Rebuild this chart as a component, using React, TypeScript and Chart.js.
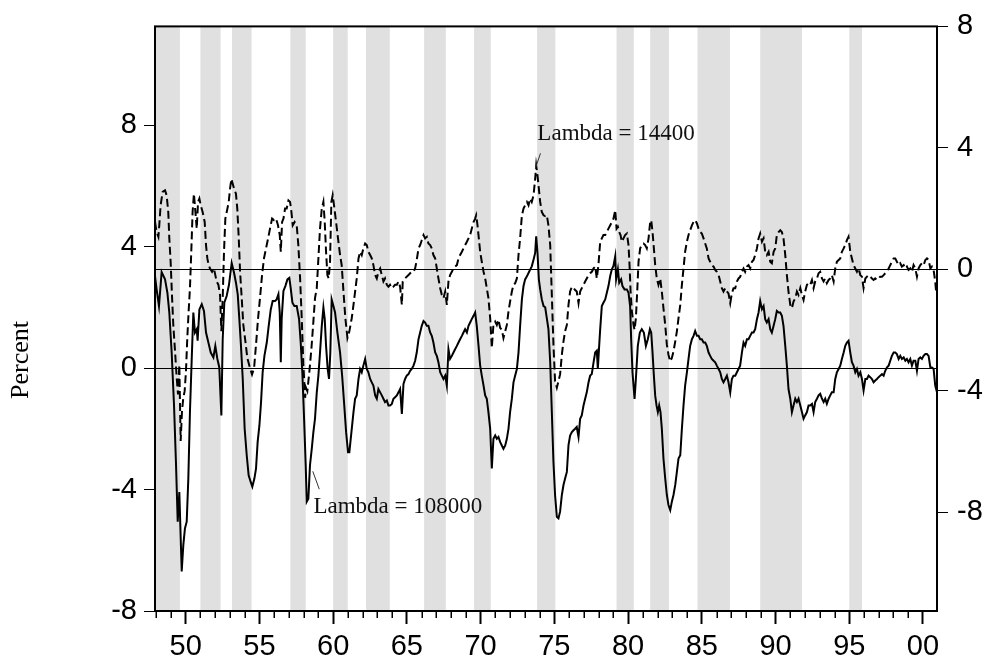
import React, { useEffect, useRef } from "react";
import { Chart, registerables } from "chart.js";

Chart.register(...registerables);

// ---- data (years as decimal dates, values in percent) ----
const lambda108000: [number, number][] = [
  [1947.92,3.03],[1948.03,2.59],[1948.19,2.04],[1948.37,3.16],[1948.60,2.92],[1948.76,2.48],[1948.89,1.83],[1949.05,0.51],[1949.21,-1.23],[1949.34,-3.09],[1949.46,-5.06],[1949.57,-4.08],[1949.73,-6.70],[1949.84,-5.83],[1949.95,-5.28],[1950.07,-5.06],[1950.18,-3.64],[1950.29,-1.45],[1950.41,0.30],[1950.52,1.83],[1950.63,1.17],[1950.75,1.28],[1950.81,0.90],[1950.93,1.93],[1951.09,2.10],[1951.24,1.88],[1951.38,1.17],[1951.54,0.84],[1951.70,0.51],[1951.88,0.35],[1952.01,0.73],[1952.15,0.30],[1952.28,0.02],[1952.42,-1.56],[1952.51,0.95],[1952.62,2.15],[1952.78,2.37],[1952.94,2.75],[1953.12,3.46],[1953.28,3.14],[1953.41,2.81],[1953.53,2.43],[1953.64,1.61],[1953.75,0.73],[1953.87,-0.36],[1954.00,-2.00],[1954.14,-2.87],[1954.27,-3.53],[1954.41,-3.75],[1954.52,-3.91],[1954.66,-3.64],[1954.77,-3.31],[1954.88,-2.44],[1955.00,-1.89],[1955.11,-1.13],[1955.22,-0.14],[1955.34,0.40],[1955.50,0.84],[1955.63,1.39],[1955.77,1.93],[1955.90,2.21],[1956.06,2.21],[1956.17,2.26],[1956.29,2.43],[1956.38,1.83],[1956.45,0.19],[1956.51,1.61],[1956.63,2.54],[1956.76,2.70],[1956.90,2.92],[1957.03,2.97],[1957.12,2.64],[1957.24,2.15],[1957.37,2.04],[1957.53,2.04],[1957.69,1.61],[1957.80,0.84],[1957.91,-0.14],[1958.03,-1.67],[1958.14,-3.20],[1958.21,-4.40],[1958.32,-4.30],[1958.43,-3.20],[1958.55,-2.66],[1958.66,-2.11],[1958.77,-1.67],[1958.89,-0.80],[1959.00,-0.25],[1959.11,0.51],[1959.23,1.39],[1959.34,1.99],[1959.43,1.61],[1959.52,0.73],[1959.63,-0.03],[1959.72,-0.36],[1959.81,0.51],[1959.90,2.26],[1960.02,2.04],[1960.13,1.83],[1960.29,1.17],[1960.47,0.51],[1960.61,-0.25],[1960.74,-1.13],[1960.88,-2.11],[1961.01,-2.77],[1961.10,-2.77],
  [1961.38,-1.45],[1961.49,-1.01],[1961.60,-0.90],[1961.72,-0.36],[1961.83,-0.03],[1961.94,-0.14],[1962.05,0.08],[1962.17,0.30],[1962.28,-0.03],[1962.39,-0.14],[1962.51,-0.36],[1962.62,-0.47],[1962.73,-0.58],[1962.85,-0.90],[1962.96,-1.01],[1963.07,-0.69],[1963.19,-0.80],[1963.30,-0.90],[1963.41,-1.01],[1963.52,-1.12],[1963.64,-1.07],[1963.75,-1.23],[1963.86,-1.23],[1963.98,-1.18],[1964.09,-1.01],[1964.20,-0.96],[1964.32,-0.90],[1964.43,-0.80],[1964.54,-0.69],[1964.66,-1.51],[1964.77,-0.52],[1964.88,-0.36],[1964.99,-0.25],[1965.11,-0.20],[1965.22,-0.09],[1965.33,-0.03],[1965.45,0.08],[1965.56,0.24],[1965.67,0.51],[1965.79,0.95],[1965.90,1.17],[1966.01,1.39],[1966.13,1.55],[1966.24,1.50],[1966.35,1.39],[1966.46,1.39],[1966.58,1.17],[1966.69,1.06],[1966.80,0.84],[1966.92,0.51],[1967.03,0.40],[1967.14,0.19],[1967.26,-0.14],[1967.37,-0.25],[1967.48,-0.36],[1967.60,-0.25],[1967.71,-0.58],[1967.82,0.62],[1967.93,0.30],[1968.05,0.40],[1968.16,0.51],[1968.27,0.62],[1968.39,0.73],[1968.50,0.84],[1968.61,0.95],[1968.73,1.06],[1968.84,1.17],[1968.95,1.28],[1969.07,1.17],[1969.18,1.39],[1969.29,1.50],[1969.40,1.61],[1969.52,1.72],[1969.63,1.83],[1969.74,1.39],[1969.86,0.73],[1969.97,0.08],[1970.08,-0.25],[1970.20,-0.58],[1970.31,-0.90],[1970.42,-1.01],[1970.53,-1.45],[1970.65,-2.00],[1970.76,-3.31],[1970.87,-2.33],[1970.99,-2.22],[1971.10,-2.33],[1971.21,-2.27],[1971.33,-2.44],[1971.44,-2.55],[1971.55,-2.66],[1971.67,-2.55],[1971.78,-2.33],[1971.89,-2.00],[1972.00,-1.45],[1972.12,-1.01],[1972.23,-0.47],[1972.34,-0.25],[1972.46,-0.03],[1972.57,0.51],[1972.68,1.39],[1972.80,2.26],[1972.91,2.70],[1973.02,2.92],[1973.14,3.02],[1973.25,3.13],[1973.36,3.24],[1973.47,3.35],[1973.59,3.57],[1973.70,3.79],[1973.77,4.34],[1973.86,3.79],[1973.95,2.92],[1974.04,2.59],[1974.15,2.26],[1974.27,2.04],[1974.38,2.00],
  [1974.60,1.28],[1974.72,0.19],[1974.83,-1.45],[1974.94,-3.09],[1975.05,-4.18],[1975.17,-4.90],[1975.28,-4.95],[1975.39,-4.73],[1975.51,-4.18],[1975.62,-3.85],[1975.73,-3.64],[1975.85,-3.42],[1975.96,-2.54],[1976.07,-2.22],[1976.19,-2.11],[1976.30,-2.05],[1976.41,-2.00],[1976.52,-1.94],[1976.64,-2.27],[1976.75,-1.67],[1976.86,-1.56],[1976.98,-1.23],[1977.09,-1.01],[1977.20,-0.80],[1977.32,-0.47],[1977.43,-0.25],[1977.54,-0.20],[1977.66,0.19],[1977.77,0.51],[1977.88,0.57],[1977.95,-0.03],[1978.04,0.73],[1978.11,1.28],[1978.22,2.04],[1978.33,2.15],[1978.45,2.26],[1978.56,2.48],[1978.67,2.70],[1978.79,3.03],[1978.90,3.25],[1979.01,3.36],[1979.13,3.68],[1979.19,2.92],[1979.31,3.25],[1979.40,2.81],[1979.53,2.92],[1979.62,2.70],[1979.76,2.59],[1979.92,2.59],[1980.03,2.48],[1980.14,2.04],[1980.21,0.95],[1980.30,-0.14],[1980.44,-1.02],[1980.53,-0.36],[1980.66,0.73],[1980.80,1.17],[1980.93,1.28],[1981.07,1.17],[1981.21,0.73],[1981.34,0.95],[1981.48,1.28],[1981.57,1.17],[1981.66,0.51],[1981.75,-0.25],[1981.84,-0.91],[1981.93,-1.23],[1982.02,-1.45],[1982.11,-1.23],[1982.20,-1.45],[1982.29,-2.00],[1982.40,-2.98],[1982.52,-3.64],[1982.63,-4.18],[1982.74,-4.51],[1982.86,-4.68],[1982.97,-4.40],[1983.08,-4.18],[1983.20,-3.85],[1983.31,-3.42],[1983.42,-2.98],[1983.54,-2.87],[1983.65,-2.00],[1983.76,-1.23],[1983.87,-0.58],[1983.99,-0.14],[1984.10,0.30],[1984.21,0.73],[1984.33,0.95],[1984.44,1.06],[1984.55,1.22],[1984.67,1.06],[1984.78,1.06],[1984.89,0.95],[1985.00,0.95],[1985.12,0.84],[1985.23,0.84],[1985.34,0.73],[1985.46,0.51],[1985.57,0.40],[1985.68,0.30],[1985.80,0.24],[1985.91,0.19],[1986.02,0.08],[1986.14,-0.03],[1986.25,-0.14],[1986.36,-0.36],[1986.47,-0.47],[1986.59,-0.36],[1986.70,-0.25],[1986.81,-0.47],[1986.93,-0.80],[1987.04,-0.36],[1987.15,-0.25],[1987.27,-0.25],[1987.38,-0.14],[1987.49,-0.03],[1987.60,0.08],
  [1987.72,0.51],[1987.83,0.84],[1987.94,0.73],[1988.06,0.95],[1988.17,0.95],[1988.28,1.06],[1988.40,1.17],[1988.51,1.17],[1988.62,1.28],[1988.74,1.61],[1988.85,1.83],[1988.96,2.21],[1989.08,1.94],[1989.19,2.04],[1989.30,1.61],[1989.41,1.50],[1989.53,1.61],[1989.64,1.28],[1989.75,1.17],[1989.87,1.39],[1989.98,1.61],[1990.09,1.88],[1990.21,1.83],[1990.32,1.83],[1990.43,1.72],[1990.54,1.39],[1990.66,0.73],[1990.77,0.08],[1990.88,-0.69],[1991.00,-1.01],[1991.11,-1.45],[1991.22,-1.23],[1991.34,-1.01],[1991.45,-1.12],[1991.56,-1.01],[1991.68,-1.23],[1991.79,-1.45],[1991.90,-1.67],[1992.01,-1.56],[1992.13,-1.45],[1992.24,-1.23],[1992.35,-1.23],[1992.47,-1.18],[1992.58,-1.45],[1992.69,-1.12],[1992.81,-1.01],[1992.92,-0.90],[1993.03,-0.85],[1993.15,-1.01],[1993.26,-1.12],[1993.37,-1.01],[1993.48,-1.18],[1993.60,-1.01],[1993.71,-0.90],[1993.82,-0.80],[1993.94,-0.80],[1994.05,-0.36],[1994.16,-0.14],[1994.28,-0.03],[1994.39,0.08],[1994.50,0.30],[1994.62,0.51],[1994.73,0.73],[1994.84,0.84],[1994.95,0.90],[1995.07,0.51],[1995.18,0.19],[1995.29,0.08],[1995.41,-0.14],[1995.52,-0.03],[1995.63,-0.25],[1995.75,-0.14],[1995.86,-0.36],[1995.97,-0.74],[1996.09,-0.36],[1996.20,-0.36],[1996.31,-0.25],[1996.42,-0.30],[1996.54,-0.36],[1996.65,-0.47],[1996.76,-0.41],[1996.88,-0.36],[1996.99,-0.30],[1997.10,-0.25],[1997.22,-0.20],[1997.33,-0.25],[1997.44,-0.09],[1997.56,0.02],[1997.67,0.08],[1997.78,0.24],[1997.89,0.40],[1998.01,0.51],[1998.12,0.51],[1998.23,0.46],[1998.35,0.30],[1998.46,0.40],[1998.57,0.30],[1998.69,0.35],[1998.80,0.24],[1998.91,0.30],[1999.02,0.19],[1999.14,0.30],[1999.25,0.08],[1999.36,0.24],[1999.48,0.24],[1999.59,-0.09],[1999.70,0.30],[1999.82,0.35],[1999.93,0.30],[2000.04,0.40],[2000.16,0.46],[2000.27,0.46],[2000.38,0.40],[2000.50,0.02],[2000.61,0.02],[2000.72,-0.03],[2000.83,-0.58],[2000.95,-0.80],
];

const lambda14400: [number, number][] = [
  [1947.92,1.56],[1948.03,1.23],[1948.15,1.07],[1948.21,1.45],[1948.30,2.11],[1948.44,2.55],[1948.60,2.60],[1948.71,2.44],[1948.82,1.89],[1948.89,1.02],[1948.98,0.25],[1949.07,-0.84],[1949.16,-1.83],[1949.28,-2.70],[1949.39,-3.57],[1949.48,-4.12],[1949.57,-3.14],[1949.66,-5.65],[1949.75,-4.67],[1949.84,-4.23],[1949.93,-4.01],[1950.02,-3.36],[1950.11,-2.26],[1950.20,-1.39],[1950.29,-0.62],[1950.38,0.58],[1950.47,1.89],[1950.56,2.49],[1950.66,1.89],[1950.75,1.34],[1950.84,2.22],[1950.93,2.33],[1951.02,2.11],[1951.15,1.89],[1951.29,1.56],[1951.38,0.80],[1951.47,0.36],[1951.56,0.14],[1951.65,0.03],[1951.79,-0.08],[1951.92,0.03],[1952.01,-0.19],[1952.10,-0.40],[1952.22,-0.51],[1952.33,-0.84],[1952.42,-2.04],[1952.51,-0.95],[1952.60,0.58],[1952.69,1.67],[1952.83,2.00],[1952.92,2.22],[1953.01,2.66],[1953.10,2.98],[1953.19,2.82],[1953.28,2.66],[1953.41,2.49],[1953.50,2.00],[1953.60,1.02],[1953.69,-0.08],[1953.80,-0.95],[1953.91,-1.83],[1954.05,-2.37],[1954.18,-2.92],[1954.36,-3.25],[1954.50,-3.46],[1954.64,-3.25],[1954.77,-2.48],[1954.91,-1.61],[1955.04,-0.95],[1955.18,-0.19],[1955.31,0.36],[1955.45,0.69],[1955.59,1.02],[1955.72,1.34],[1955.86,1.67],[1955.99,1.62],[1956.13,1.67],[1956.26,1.45],[1956.38,1.13],[1956.45,0.58],[1956.54,1.56],[1956.63,1.67],[1956.74,2.00],[1956.85,2.00],[1956.97,2.27],[1957.08,2.22],[1957.17,1.89],[1957.26,1.45],[1957.39,1.56],[1957.53,1.45],[1957.64,0.80],[1957.76,-0.30],[1957.87,-1.61],[1957.98,-3.14],[1958.10,-4.23],[1958.16,-3.90],[1958.25,-4.01],[1958.39,-3.36],[1958.53,-2.59],[1958.66,-1.72],[1958.77,-0.95],[1958.89,-0.62],[1959.00,0.36],[1959.11,1.34],[1959.23,2.00],[1959.34,2.22],[1959.43,1.56],[1959.52,0.58],[1959.61,-0.19],[1959.70,-0.30],[1959.79,0.25],[1959.88,2.22],[1959.97,2.44],[1960.06,2.11],[1960.20,1.56],[1960.33,1.02],[1960.47,0.47],[1960.58,0.14],[1960.70,-0.73],[1960.83,-1.61],[1960.97,-2.26],[1961.10,-2.04],
  [1961.26,-1.61],[1961.38,-1.17],[1961.49,-0.73],[1961.60,-0.30],[1961.72,0.36],[1961.83,0.58],[1961.94,0.47],[1962.05,0.69],[1962.17,0.85],[1962.28,0.80],[1962.39,0.58],[1962.51,0.47],[1962.62,0.36],[1962.73,0.14],[1962.85,-0.19],[1962.96,-0.30],[1963.07,-0.08],[1963.19,0.03],[1963.30,-0.19],[1963.41,-0.40],[1963.52,-0.30],[1963.64,-0.51],[1963.75,-0.57],[1963.86,-0.51],[1963.98,-0.62],[1964.09,-0.57],[1964.20,-0.51],[1964.32,-0.51],[1964.43,-0.40],[1964.54,-0.57],[1964.66,-1.17],[1964.72,-0.40],[1964.88,-0.30],[1964.99,-0.24],[1965.11,-0.19],[1965.22,-0.13],[1965.33,-0.08],[1965.45,-0.08],[1965.56,0.03],[1965.67,0.31],[1965.79,0.69],[1965.90,0.80],[1966.01,0.96],[1966.13,1.13],[1966.24,1.02],[1966.35,1.07],[1966.46,0.85],[1966.58,0.80],[1966.69,0.69],[1966.80,0.47],[1966.92,0.36],[1967.03,0.03],[1967.14,-0.30],[1967.26,-0.62],[1967.37,-0.84],[1967.48,-0.95],[1967.60,-0.73],[1967.71,-1.17],[1967.82,-0.40],[1967.93,-0.19],[1968.05,-0.08],[1968.16,0.03],[1968.27,0.09],[1968.39,0.14],[1968.50,0.36],[1968.61,0.47],[1968.73,0.58],[1968.84,0.69],[1968.95,0.80],[1969.07,0.91],[1969.18,1.02],[1969.29,1.13],[1969.40,1.34],[1969.52,1.56],[1969.63,1.67],[1969.70,1.78],[1969.79,1.45],[1969.88,1.02],[1969.97,0.58],[1970.08,0.25],[1970.20,-0.08],[1970.31,-0.30],[1970.42,-0.62],[1970.53,-0.95],[1970.65,-1.61],[1970.76,-2.59],[1970.87,-1.83],[1970.99,-1.72],[1971.10,-1.83],[1971.21,-1.66],[1971.33,-1.93],[1971.44,-1.99],[1971.55,-2.26],[1971.67,-2.04],[1971.78,-1.83],[1971.89,-1.39],[1972.00,-1.06],[1972.12,-0.73],[1972.23,-0.51],[1972.34,-0.46],[1972.46,-0.30],[1972.57,0.47],[1972.68,1.02],[1972.80,1.78],[1972.91,2.00],[1973.02,2.11],[1973.14,2.22],[1973.25,2.11],[1973.36,2.33],[1973.47,2.22],[1973.59,2.44],[1973.70,2.98],[1973.77,3.42],[1973.86,3.09],[1973.95,2.66],[1974.04,2.22],[1974.15,1.89],[1974.27,1.78],[1974.38,1.75],[1974.49,1.78],
  [1974.60,1.45],[1974.72,0.80],[1974.83,-0.84],[1974.94,-2.48],[1975.05,-3.68],[1975.17,-3.90],[1975.28,-3.68],[1975.39,-3.46],[1975.51,-2.81],[1975.62,-2.37],[1975.73,-2.04],[1975.85,-1.83],[1975.96,-1.17],[1976.07,-0.73],[1976.19,-0.57],[1976.30,-0.62],[1976.41,-0.68],[1976.52,-0.73],[1976.64,-1.11],[1976.75,-0.73],[1976.86,-0.62],[1976.98,-0.51],[1977.09,-0.40],[1977.20,-0.30],[1977.32,-0.19],[1977.43,-0.13],[1977.54,-0.08],[1977.66,0.03],[1977.77,0.09],[1977.88,-0.30],[1977.99,0.14],[1978.11,0.91],[1978.22,1.02],[1978.33,1.13],[1978.45,1.13],[1978.56,1.23],[1978.67,1.34],[1978.79,1.45],[1978.90,1.56],[1979.01,1.67],[1979.13,1.95],[1979.22,1.34],[1979.31,1.40],[1979.40,1.23],[1979.49,1.13],[1979.58,0.91],[1979.69,1.02],[1979.80,1.13],[1979.92,1.18],[1980.03,0.80],[1980.10,0.14],[1980.17,-0.73],[1980.26,-1.39],[1980.37,-1.83],[1980.44,-1.99],[1980.53,-1.61],[1980.62,-0.73],[1980.71,0.25],[1980.82,0.69],[1980.93,0.80],[1981.05,0.85],[1981.16,0.80],[1981.27,0.69],[1981.39,1.02],[1981.50,1.56],[1981.57,1.62],[1981.66,1.23],[1981.75,0.69],[1981.84,0.14],[1981.95,-0.30],[1982.06,-0.51],[1982.18,-0.30],[1982.29,-0.73],[1982.40,-1.28],[1982.52,-1.83],[1982.63,-2.48],[1982.74,-2.81],[1982.86,-3.03],[1982.97,-2.92],[1983.08,-2.70],[1983.20,-2.37],[1983.31,-2.04],[1983.42,-1.61],[1983.54,-1.17],[1983.65,-0.51],[1983.76,0.03],[1983.87,0.58],[1983.99,0.91],[1984.10,1.13],[1984.21,1.29],[1984.33,1.45],[1984.44,1.56],[1984.55,1.62],[1984.67,1.51],[1984.78,1.34],[1984.89,1.23],[1985.00,1.18],[1985.12,1.02],[1985.23,0.85],[1985.34,0.69],[1985.46,0.36],[1985.57,0.25],[1985.68,0.14],[1985.80,0.09],[1985.91,-0.02],[1986.02,-0.08],[1986.14,-0.19],[1986.25,-0.40],[1986.36,-0.62],[1986.47,-0.73],[1986.59,-0.62],[1986.70,-0.73],[1986.81,-0.79],[1986.93,-1.11],[1987.04,-0.79],[1987.15,-0.62],[1987.27,-0.62],[1987.38,-0.40],[1987.49,-0.30],[1987.60,-0.25],
  [1987.72,-0.08],[1987.83,0.03],[1987.94,-0.08],[1988.06,0.09],[1988.17,0.14],[1988.28,0.03],[1988.40,0.25],[1988.51,0.31],[1988.62,0.47],[1988.74,0.69],[1988.85,1.02],[1988.96,1.18],[1989.08,0.91],[1989.19,1.02],[1989.30,0.58],[1989.41,0.47],[1989.53,0.58],[1989.64,0.25],[1989.75,0.20],[1989.87,0.58],[1989.98,0.69],[1990.09,1.13],[1990.21,1.23],[1990.32,1.29],[1990.43,1.23],[1990.54,1.02],[1990.66,0.47],[1990.77,-0.19],[1990.88,-0.73],[1991.00,-1.17],[1991.11,-1.28],[1991.22,-1.06],[1991.34,-0.95],[1991.45,-0.73],[1991.56,-0.84],[1991.68,-0.62],[1991.79,-0.84],[1991.90,-1.01],[1992.01,-0.73],[1992.13,-0.51],[1992.24,-0.46],[1992.35,-0.51],[1992.47,-0.35],[1992.58,-0.62],[1992.69,-0.40],[1992.81,-0.30],[1992.92,-0.13],[1993.03,-0.08],[1993.15,-0.30],[1993.26,-0.40],[1993.37,-0.30],[1993.48,-0.46],[1993.60,-0.35],[1993.71,-0.30],[1993.82,-0.19],[1993.94,-0.40],[1994.05,0.03],[1994.16,0.25],[1994.28,0.31],[1994.39,0.36],[1994.50,0.58],[1994.62,0.69],[1994.73,0.80],[1994.84,0.96],[1994.95,1.07],[1995.07,0.58],[1995.18,0.36],[1995.29,0.14],[1995.41,0.03],[1995.52,-0.08],[1995.63,0.03],[1995.75,-0.19],[1995.86,-0.24],[1995.97,-0.62],[1996.09,-0.30],[1996.20,-0.24],[1996.31,-0.19],[1996.42,-0.24],[1996.54,-0.30],[1996.65,-0.35],[1996.76,-0.30],[1996.88,-0.35],[1996.99,-0.30],[1997.10,-0.24],[1997.22,-0.24],[1997.33,-0.19],[1997.44,-0.13],[1997.56,-0.08],[1997.67,0.03],[1997.78,0.14],[1997.89,0.25],[1998.01,0.36],[1998.12,0.36],[1998.23,0.25],[1998.35,0.14],[1998.46,0.20],[1998.57,0.09],[1998.69,0.14],[1998.80,0.03],[1998.91,0.09],[1999.02,-0.02],[1999.14,0.03],[1999.25,-0.08],[1999.36,0.14],[1999.48,0.03],[1999.59,-0.24],[1999.70,0.03],[1999.82,0.14],[1999.93,0.20],[2000.04,0.14],[2000.16,0.31],[2000.27,0.36],[2000.38,0.31],[2000.50,0.03],[2000.61,0.09],[2000.72,-0.02],[2000.83,-0.40],[2000.90,-0.79],
];

// shaded periods (start / end, decimal years)
const bandStart = [1947.92, 1951.0, 1953.14, 1957.1, 1960.0, 1962.23, 1966.17, 1969.56, 1973.83, 1979.22, 1981.5, 1984.71, 1988.96, 1995.0];
const bandEnd = [1949.61, 1952.37, 1954.47, 1958.14, 1960.99, 1963.84, 1967.64, 1970.69, 1975.07, 1980.39, 1982.77, 1986.91, 1991.79, 1995.86];

// axis ticks
const xTickYears = Array.from({ length: 53 }, (_, i) => 1948 + i);
const leftTicks = [-8, -4, 0, 4, 8];
const rightTicks = [-8, -4, 0, 4, 8];

const SANS = "'Liberation Sans', Arial, sans-serif";
const SERIF = "'Liberation Serif', 'Times New Roman', serif";

const decorPlugin = {
  id: "decor",
  beforeDraw(chart: any) {
    const { ctx, chartArea: a, scales } = chart;
    const xs = scales.x;
    ctx.save();
    ctx.fillStyle = "#e0e0e0";
    bandStart.forEach((s, i) => {
      const x0 = Math.max(xs.getPixelForValue(s), a.left);
      const x1 = Math.min(xs.getPixelForValue(bandEnd[i]), a.right);
      if (x1 > x0) ctx.fillRect(x0, a.top, x1 - x0, a.bottom - a.top);
    });
    ctx.restore();
  },
  afterDraw(chart: any) {
    const { ctx, chartArea: a, scales } = chart;
    const xs = scales.x;
    const yl = scales.y;
    const yr = scales.y2;
    ctx.save();
    // frame
    ctx.strokeStyle = "#000";
    ctx.lineWidth = 2;
    ctx.strokeRect(a.left, a.top, a.right - a.left, a.bottom - a.top);
    // minor ticks on x axis
    ctx.lineWidth = 1.5;
    xs.ticks.forEach((t: any) => {
      if (t.value % 5 !== 0) {
        const x = Math.round(xs.getPixelForValue(t.value)) + 0.25;
        ctx.beginPath();
        ctx.moveTo(x, a.bottom);
        ctx.lineTo(x, a.bottom + 7);
        ctx.stroke();
      }
    });
    // annotations
    ctx.fillStyle = "#111";
    ctx.font = `23px ${SERIF}`;
    ctx.textAlign = "left";
    ctx.textBaseline = "alphabetic";
    ctx.fillText("Lambda = 14400", xs.getPixelForValue(1973.85), yr.getPixelForValue(4.25));
    ctx.fillText("Lambda = 108000", xs.getPixelForValue(1958.66), yl.getPixelForValue(-4.78));
    ctx.strokeStyle = "#333";
    ctx.lineWidth = 1;
    ctx.beginPath();
    ctx.moveTo(xs.getPixelForValue(1974.06), yr.getPixelForValue(3.82));
    ctx.lineTo(xs.getPixelForValue(1973.72), yr.getPixelForValue(3.33));
    ctx.stroke();
    ctx.beginPath();
    ctx.moveTo(xs.getPixelForValue(1958.62), yl.getPixelForValue(-3.4));
    ctx.lineTo(xs.getPixelForValue(1959.06), yl.getPixelForValue(-3.99));
    ctx.stroke();
    // y axis title
    ctx.translate(28, yl.getPixelForValue(0) - 8);
    ctx.rotate(-Math.PI / 2);
    ctx.textAlign = "center";
    ctx.fillStyle = "#000";
    ctx.font = `26px ${SERIF}`;
    ctx.fillText("Percent", 0, 0);
    ctx.restore();
  },
};

export default function App() {
  const ref = useRef<HTMLCanvasElement | null>(null);
  useEffect(() => {
    if (!ref.current) return;
    const zeroGrid = (c: any) => (c.tick && c.tick.value === 0 ? "#000" : "rgba(0,0,0,0)");
    const tickFont = { family: SANS, size: 29 };
    const chart = new Chart(ref.current, {
      type: "line",
      data: {
        datasets: [
          {
            label: "Lambda = 108000",
            data: lambda108000.map(([x, y]) => ({ x, y })),
            borderColor: "#000",
            borderWidth: 2,
            pointRadius: 0,
            tension: 0,
            yAxisID: "y",
          },
          {
            label: "Lambda = 14400",
            data: lambda14400.map(([x, y]) => ({ x, y })),
            borderColor: "#000",
            borderWidth: 2,
            borderDash: [8, 4],
            pointRadius: 0,
            tension: 0,
            yAxisID: "y2",
          },
        ],
      },
      options: {
        animation: false,
        responsive: false,
        events: [],
        layout: { padding: { top: 23, left: 0, right: 0, bottom: 0 } },
        plugins: { legend: { display: false }, tooltip: { enabled: false } },
        scales: {
          x: {
            type: "linear",
            min: 1947.92,
            max: 2000.95,
            afterFit: (s: any) => { s.height = 52; },
            afterBuildTicks: (s: any) => { s.ticks = xTickYears.map((v) => ({ value: v })); },
            border: { display: false },
            grid: {
              drawOnChartArea: false,
              drawTicks: true,
              tickLength: 13,
              tickWidth: 2,
              tickColor: (c: any) => (c.tick && c.tick.value % 5 === 0 ? "#000" : "rgba(0,0,0,0)"),
            },
            ticks: {
              autoSkip: false,
              maxRotation: 0,
              minRotation: 0,
              padding: 6,
              color: "#000",
              font: tickFont,
              callback: (v: any) => (Number(v) % 5 === 0 ? String(Number(v) % 100).padStart(2, "0") : ""),
            },
          },
          y: {
            position: "left",
            min: -8,
            max: 11.25,
            afterFit: (s: any) => { s.width = 155; },
            afterBuildTicks: (s: any) => { s.ticks = leftTicks.map((v) => ({ value: v })); },
            border: { display: false },
            grid: { color: zeroGrid, lineWidth: 1, tickColor: "#000", tickLength: 11, tickWidth: 1 },
            ticks: { padding: 7, color: "#000", font: tickFont, callback: (v: any) => String(v) },
          },
          y2: {
            position: "right",
            min: -11.25,
            max: 8,
            afterFit: (s: any) => { s.width = 52; },
            afterBuildTicks: (s: any) => { s.ticks = rightTicks.map((v) => ({ value: v })); },
            border: { display: false },
            grid: { color: zeroGrid, lineWidth: 1, tickColor: "#000", tickLength: 11, tickWidth: 1 },
            ticks: { padding: 9, color: "#000", font: tickFont, callback: (v: any) => String(v) },
          },
        },
      } as any,
      plugins: [decorPlugin],
    });
    return () => chart.destroy();
  }, []);
  return (
    <div style={{ position: "fixed", left: 0, top: 0, width: 989, height: 663, background: "#fff" }}>
      <canvas ref={ref} width={989} height={663} style={{ display: "block" }} />
    </div>
  );
}
